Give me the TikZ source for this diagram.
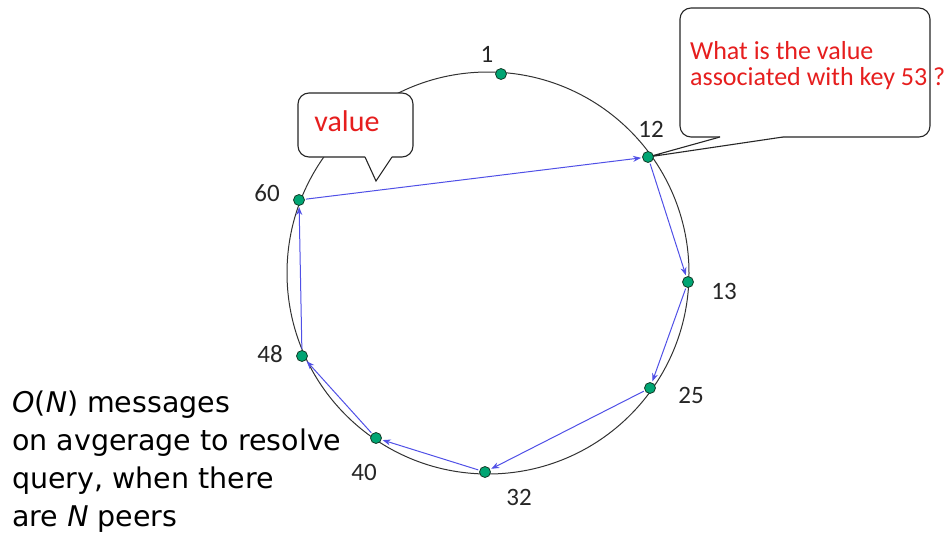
\documentclass[tikz,border=0pt]{standalone}
\usepackage{fontspec}
\setmainfont{Carlito}
\newfontfamily\comicfont{DejaVu Sans}
\usetikzlibrary{arrows.meta}
\definecolor{peer}{RGB}{0,165,115}
\definecolor{peeredge}{RGB}{20,60,40}
\definecolor{hop}{RGB}{80,80,230}
\definecolor{msg}{RGB}{230,30,30}
\begin{document}
\begin{tikzpicture}[x=1pt,y=-1pt,
  peernode/.style={circle,draw=peeredge,fill=peer,line width=0.8pt,minimum size=11pt,inner sep=0pt},
  idlabel/.style={font=\fontsize{25}{27}\selectfont,text=black!85},
  hoparrow/.style={draw=hop,line width=1pt,-{Stealth[length=8pt,width=6pt]},shorten <=7pt,shorten >=7pt},
  bubble/.style={draw=black!85,fill=white,line width=1.1pt,rounded corners=11pt},
  bubbleside/.style={draw=black!85,line width=1.1pt}]
\useasboundingbox (0,0) rectangle (951,541);
% ring
\node[circle,draw=black!80,line width=1pt,minimum size=402pt,inner sep=0pt] (ring) at (488,273) {};
% peers (coordinates first)
\coordinate (p1) at (501,74);
\coordinate (p12) at (648,157);
\coordinate (p13) at (688,282);
\coordinate (p25) at (650,388);
\coordinate (p32) at (485,472);
\coordinate (p40) at (376,438);
\coordinate (p48) at (302,356);
\coordinate (p60) at (299,200);
% hops
\draw[hoparrow] (p60) -- (p12);
\draw[hoparrow] (p12) -- (p13);
\draw[hoparrow] (p13) -- (p25);
\draw[hoparrow] (p25) -- (p32);
\draw[hoparrow] (p32) -- (p40);
\draw[hoparrow] (p40) -- (p48);
\draw[hoparrow] (p48) -- (p60);
% callout value
\node[bubble,minimum width=115pt,minimum height=64pt] (vbox) at (355.5,125) {};
\coordinate (vtip) at (376,181);
\fill[white] (366,154.5) -- (391,154.5) -- (392,157) -- (vtip) -- (365,157) -- cycle;
\draw[bubbleside] (365,157) -- (vtip) -- (392,157);
\node[font=\fontsize{30}{32}\selectfont,text=msg] (vtext) at (347,121) {value};
% callout question
\node[bubble,minimum width=250pt,minimum height=129pt] (qbox) at (805,72.5) {};
\fill[white] (721,134) -- (782,134) -- (783,137) -- (p12) -- (720,137) -- cycle;
\draw[bubbleside] (720,137) -- (p12) -- (783,137);
\node[font=\fontsize{26}{26}\selectfont,text=msg,align=left,anchor=north west,inner sep=0pt] (qtext) at (690,41) {What is the value\\associated with key 53 ?};
% peer nodes
\foreach \p in {1,12,13,25,32,40,48,60} {\node[peernode] (n\p) at (p\p) {};}
% labels
\node[idlabel] (l1) at (487,54) {1};
\node[idlabel] (l12) at (651,129) {12};
\node[idlabel] (l13) at (724,291) {13};
\node[idlabel] (l25) at (691,395) {25};
\node[idlabel] (l32) at (519,497) {32};
\node[idlabel] (l40) at (364,472) {40};
\node[idlabel] (l48) at (270,354) {48};
\node[idlabel] (l60) at (267,193) {60};
% note
\node[font=\comicfont\fontsize{28.5}{38}\selectfont,align=left,anchor=north west,inner sep=0pt] (note) at (12,391) {\textit{O}(\textit{N}) messages\\on avgerage to resolve\\query, when there\\are \textit{N} peers};
\end{tikzpicture}
\end{document}
